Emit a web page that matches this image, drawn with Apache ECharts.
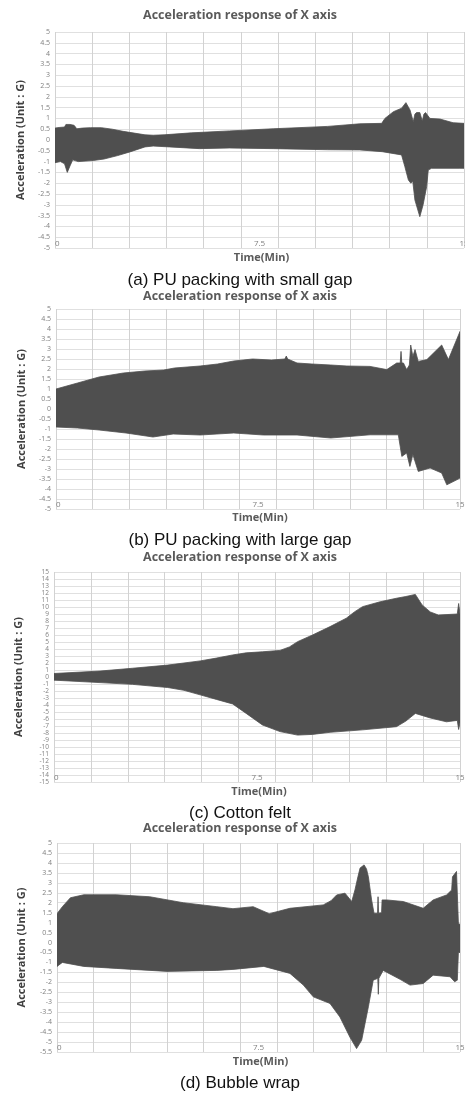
<!DOCTYPE html>
<html>
<head>
<meta charset="utf-8">
<script src="https://cdn.jsdelivr.net/npm/echarts@6/dist/echarts.min.js"></script>
<style>
html,body{margin:0;padding:0;background:#fff;}
#c{width:465px;height:1097px;}
</style>
</head>
<body>
<div id="c"></div>
<script>
// ---------- DATA ----------
const chartTitle = 'Acceleration response of X axis';
const yAxisName = 'Acceleration (Unit : G)';
const xAxisName = 'Time(Min)';
const captions = ['(a) PU packing with small gap', '(b) PU packing with large gap', '(c) Cotton felt', '(d) Bubble wrap'];
const xTickValues = [0, 7.5, 15];

// [time (min), acceleration (G)] envelopes
const aUpper = [[0,0.55],[0.15,0.58],[0.35,0.6],[0.4,0.72],[0.55,0.72],[0.7,0.68],[0.8,0.52],[1.0,0.55],[1.3,0.57],[1.7,0.57],[2.1,0.5],[2.5,0.4],[2.9,0.32],[3.3,0.24],[3.6,0.22],[4.0,0.24],[5.0,0.33],[6.4,0.42],[8.0,0.52],[10.0,0.63],[11.18,0.75],[11.98,0.77],[12.1,1.0],[12.41,1.31],[12.71,1.47],[12.87,1.73],[13.02,1.39],[13.14,0.85],[13.2,1.2],[13.26,1.27],[13.38,1.27],[13.47,0.88],[13.53,1.2],[13.59,1.27],[13.75,1.0],[14.12,0.97],[14.6,0.8],[15,0.77]];
const aLower = [[0,-1.05],[0.2,-1.0],[0.35,-1.1],[0.45,-1.5],[0.55,-1.2],[0.65,-0.92],[0.85,-1.0],[1.4,-0.95],[1.8,-0.88],[2.3,-0.72],[2.75,-0.55],[3.3,-0.32],[3.6,-0.28],[4.2,-0.32],[5.3,-0.4],[6.4,-0.37],[8,-0.4],[10,-0.45],[11.18,-0.46],[12.0,-0.54],[12.71,-0.69],[12.83,-1.23],[12.96,-1.85],[13.05,-2.0],[13.12,-1.9],[13.2,-2.78],[13.38,-3.55],[13.5,-3.0],[13.63,-2.16],[13.69,-1.39],[13.81,-1.31],[14.85,-1.31],[15,-1.31]];

const bUpper = [[0,1.0],[0.8,1.3],[1.6,1.6],[2.5,1.8],[3.3,1.9],[4.0,1.95],[4.4,2.05],[5.35,2.15],[6.0,2.25],[6.6,2.4],[7.3,2.5],[8.0,2.45],[8.5,2.5],[8.55,2.65],[8.6,2.5],[8.95,2.3],[9.5,2.25],[10.2,2.2],[10.8,2.15],[11.66,2.13],[12.28,1.97],[12.65,2.3],[12.78,2.3],[12.81,2.88],[12.84,2.3],[12.9,2.3],[13.02,1.97],[13.12,2.2],[13.17,3.2],[13.25,2.63],[13.33,2.97],[13.45,2.38],[13.77,2.47],[14.32,3.2],[14.57,2.47],[15,3.88]];
const bLower = [[0,-0.9],[0.8,-0.95],[1.6,-1.05],[2.6,-1.2],[3.6,-1.4],[4.35,-1.25],[5.35,-1.3],[6.6,-1.2],[7.7,-1.3],[8.95,-1.3],[10.2,-1.45],[11.66,-1.29],[12.71,-1.29],[12.84,-2.37],[13.02,-2.2],[13.14,-2.87],[13.25,-2.28],[13.45,-3.12],[13.89,-2.95],[14.32,-3.2],[14.51,-3.79],[14.88,-3.54],[15,-3.45]];

const cUpper = [[0,0.5],[1.7,0.85],[2.9,1.25],[4.2,1.7],[5.4,2.3],[6.0,2.7],[6.6,3.15],[7.1,3.45],[7.7,3.6],[8.35,3.8],[8.7,4.3],[9.0,5.05],[9.55,6.0],[10.2,7.2],[10.8,8.4],[11.1,9.3],[11.4,10.05],[12.05,10.75],[12.65,11.25],[13.0,11.5],[13.35,11.8],[13.6,10.3],[13.9,9.3],[14.2,8.85],[14.9,9.0],[14.95,10.5],[15,9.0]];
const cLower = [[0,-0.45],[1.7,-0.8],[2.9,-1.05],[4.2,-1.5],[4.8,-1.9],[5.4,-2.55],[6.0,-3.2],[6.6,-3.85],[7.1,-5.2],[7.7,-6.85],[8.35,-7.8],[9.0,-8.3],[9.55,-8.2],[10.2,-7.9],[11.4,-7.55],[12.65,-7.1],[13.0,-6.3],[13.35,-5.2],[13.9,-5.85],[14.5,-6.4],[14.9,-6.2],[14.95,-7.5],[15,-6.5]];

const dUpper = [[0,1.45],[0.2,1.8],[0.5,2.25],[1.0,2.4],[2.2,2.4],[3.45,2.3],[4.7,2.0],[5.95,1.8],[6.55,1.7],[7.3,1.8],[7.9,1.45],[8.67,1.72],[9.91,1.89],[10.2,2.1],[10.41,2.39],[10.72,2.48],[10.97,2.06],[11.09,2.64],[11.2,3.3],[11.28,3.74],[11.43,3.9],[11.52,3.7],[11.59,3.3],[11.71,2.14],[11.8,1.47],[11.93,1.47],[11.95,2.3],[11.97,1.47],[12.08,1.5],[12.1,2.14],[12.27,2.14],[12.89,2.06],[13.63,1.72],[14.0,2.14],[14.5,2.39],[14.69,2.64],[14.72,3.3],[14.87,3.57],[14.94,0.98],[15,0.9]];
const dLower = [[0,-1.2],[0.2,-1.0],[1.0,-1.2],[2.2,-1.3],[4.1,-1.45],[5.95,-1.4],[6.55,-1.35],[7.7,-1.2],[8.67,-1.55],[9.17,-2.14],[9.54,-2.73],[10.16,-3.06],[10.53,-3.74],[10.9,-4.75],[11.15,-5.33],[11.34,-4.91],[11.59,-3.23],[11.77,-1.89],[11.94,-1.8],[11.96,-2.6],[11.98,-1.8],[12.14,-1.4],[12.77,-1.85],[13.14,-2.14],[13.63,-2.06],[14.0,-1.64],[14.63,-1.72],[14.8,-1.97],[14.9,-1.89],[14.94,-0.5],[15,-0.5]];

const yRanges = [[-5,5,0.5],[-5,5,0.5],[-15,15,1],[-5.5,5,0.5]];
const panelData = [[aUpper,aLower],[bUpper,bLower],[cUpper,cLower],[dUpper,dLower]];

// ---------- LAYOUT ----------
const rects = [
  {left:55, top:32, width:409, height:216},
  {left:56, top:309, width:404, height:200},
  {left:54, top:572, width:406, height:210},
  {left:57, top:843, width:403, height:209}
];
const titleY = [15, 296, 557, 828];
const timeY = [258, 518, 792, 1062];
const capY = [280, 540, 813, 1083];
const nameGaps = [29, 29, 30, 30];
const band = '#4f4f4f';

const grids = [], xAxes = [], yAxes = [], series = [], graphics = [];
rects.forEach((r, i) => {
  grids.push(Object.assign({outerBoundsMode:'none', containLabel:false}, r));
  // data axis 0..15
  xAxes.push({
    type:'value', gridIndex:i, min:0, max:15, interval:7.5,
    axisLine:{show:false}, axisTick:{show:false}, splitLine:{show:false},
    axisLabel:{inside:true, margin:0, fontSize:8, color:'#808080', fontFamily:'Open Sans',
      alignMinLabel:'left', alignMaxLabel:'center',
      formatter: v => xTickValues.indexOf(v) >= 0 ? String(v) : ''}
  });
  // vertical grid lines axis (11 equal divisions)
  xAxes.push({
    type:'value', gridIndex:i, min:0, max:11, interval:1, position:'top',
    axisLine:{show:false}, axisTick:{show:false}, axisLabel:{show:false},
    splitLine:{show:true, lineStyle:{color:'#d2d2d2', width:1}}
  });
  const yr = yRanges[i];
  yAxes.push({
    type:'value', gridIndex:i, min:yr[0], max:yr[1], interval:yr[2],
    axisLine:{show:false}, axisTick:{show:false},
    axisLabel:{fontSize: i===2 ? 6.5 : 7, color:'#808080', fontFamily:'Open Sans', margin:5},
    splitLine:{show:true, lineStyle:{color:'#e0e0e0', width:1}},
    name:yAxisName, nameLocation:'middle', nameGap:nameGaps[i],
    nameTextStyle:{fontSize:11, fontWeight:'bold', color:'#404040', fontFamily:'Open Sans'}
  });
  const up = panelData[i][0], lo = panelData[i][1];
  series.push({
    type:'custom', coordinateSystem:'cartesian2d', xAxisIndex:i*2, yAxisIndex:i,
    data: up.concat(lo), encode:{x:0, y:1}, silent:true, z:3, clip:true,
    renderItem: (params, api) => {
      if (params.dataIndex !== 0) return null;
      const pts = up.map(p => api.coord(p)).concat(lo.slice().reverse().map(p => api.coord(p)));
      return {type:'polygon', shape:{points:pts}, style:{fill:band, stroke:band, lineWidth:0.8}};
    }
  });
  graphics.push({type:'text', x:240, y:titleY[i], style:{text:chartTitle, fill:'#5a5a5a',
    fontSize:12.5, fontWeight:'bold', fontFamily:'Open Sans', align:'center', verticalAlign:'middle'}});
  graphics.push({type:'text', x:r.left + r.width/2 + 2, y:timeY[i], style:{text:xAxisName, fill:'#5a5a5a',
    fontSize:11, fontWeight:'bold', fontFamily:'Open Sans', align:'center', verticalAlign:'middle'}});
  graphics.push({type:'text', x:240, y:capY[i], style:{text:captions[i], fill:'#111',
    fontSize:17, fontFamily:'Liberation Sans', align:'center', verticalAlign:'middle'}});
});

const chart = echarts.init(document.getElementById('c'), null, {renderer:'canvas'});
chart.setOption({
  animation:false,
  backgroundColor:'#fff',
  grid:grids, xAxis:xAxes, yAxis:yAxes, series:series, graphic:graphics
});
</script>
</body>
</html>
